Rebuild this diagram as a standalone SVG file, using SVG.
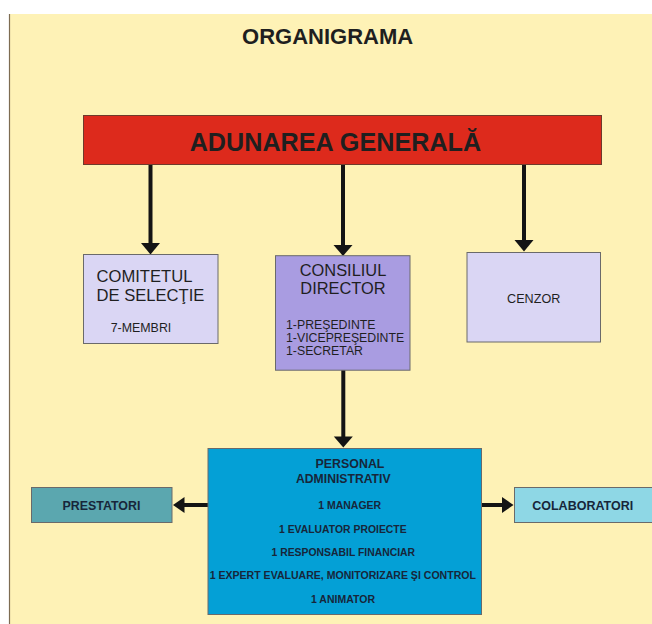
<svg xmlns="http://www.w3.org/2000/svg" width="652" height="624" viewBox="0 0 652 624">
<defs>
<style>
.t{font-family:"Liberation Sans",Arial,sans-serif;fill:#1f1f1f}
.b{font-weight:bold}
.box{stroke:#6a6a6a;stroke-width:1}
.ln{stroke:#141414;stroke-width:4;fill:none}
.hd{fill:#141414}
.nv{fill:#17263a}
</style>
</defs>
<rect x="0" y="0" width="652" height="624" fill="#ffffff"/>
<rect x="9" y="14" width="643" height="610" fill="#FEF2B6"/>
<line x1="9.5" y1="14" x2="9.5" y2="624" stroke="#7d6c52" stroke-width="1.2"/>

<text class="t b" x="327.6" y="44.3" font-size="22" text-anchor="middle" fill="#111111">ORGANIGRAMA</text>

<g id="connectors">
<line class="ln" x1="150.5" y1="165" x2="150.5" y2="244"/>
<polygon class="hd" points="141,243 160,243 150.5,254.5"/>
<line class="ln" x1="343" y1="165" x2="343" y2="246"/>
<polygon class="hd" points="333.5,245 352.5,245 343,256"/>
<line class="ln" x1="524" y1="165" x2="524" y2="241"/>
<polygon class="hd" points="514.5,240 533.5,240 524,251.5"/>
<line class="ln" x1="343.3" y1="370" x2="343.3" y2="437"/>
<polygon class="hd" points="333.8,436.5 352.8,436.5 343.3,447.5"/>
<line class="ln" x1="208" y1="505" x2="183" y2="505"/>
<polygon class="hd" points="184.5,497 184.5,513 173,505"/>
<line class="ln" x1="482" y1="505" x2="503" y2="505"/>
<polygon class="hd" points="502,497 502,513 513.5,505"/>
</g>

<g id="adunarea">
<rect x="83.5" y="115.5" width="518" height="49" fill="#DD2A1C" stroke="#6e3b2c" stroke-width="1"/>
<text class="t b" x="335.4" y="150.7" font-size="25.2" text-anchor="middle" fill="#1a1a1a">ADUNAREA GENERALĂ</text>
</g>

<g id="comitetul">
<rect class="box" x="83.5" y="254.5" width="134.5" height="89" fill="#DAD6F4"/>
<text class="t" x="96.5" y="282.3" font-size="16.6">COMITETUL</text>
<text class="t" x="96.5" y="300.7" font-size="16.6">DE SELECŢIE</text>
<text class="t" x="110.7" y="332.3" font-size="12.4">7-MEMBRI</text>
</g>

<g id="consiliul">
<rect class="box" x="275.5" y="255.7" width="134.5" height="114.5" fill="#A99CE1"/>
<text class="t" x="343" y="276.2" font-size="16.4" text-anchor="middle">CONSILIUL</text>
<text class="t" x="343" y="293.6" font-size="16.4" text-anchor="middle">DIRECTOR</text>
<text class="t" x="286" y="329.3" font-size="12.3">1-PREŞEDINTE</text>
<text class="t" x="286" y="342" font-size="12.3">1-VICEPREŞEDINTE</text>
<text class="t" x="286" y="355" font-size="12.3">1-SECRETAR</text>
</g>

<g id="cenzor">
<rect class="box" x="467" y="252.5" width="133.5" height="89.5" fill="#DAD6F4"/>
<text class="t" x="533.7" y="303" font-size="12.6" text-anchor="middle">CENZOR</text>
</g>

<g id="personal">
<rect class="box" x="208" y="448.5" width="273.5" height="166" fill="#04A0D6" stroke="#2a4a5c"/>
<text class="t b nv" x="350" y="468.3" font-size="12.4" text-anchor="middle">PERSONAL</text>
<text class="t b nv" x="343.3" y="482.7" font-size="12.2" text-anchor="middle">ADMINISTRATIV</text>
<text class="t b nv" x="349.7" y="509" font-size="10.5" text-anchor="middle">1 MANAGER</text>
<text class="t b nv" x="342.8" y="532.7" font-size="10.4" text-anchor="middle">1 EVALUATOR PROIECTE</text>
<text class="t b nv" x="343.3" y="556" font-size="10.4" text-anchor="middle">1 RESPONSABIL FINANCIAR</text>
<text class="t b nv" x="342.8" y="579.3" font-size="10.55" text-anchor="middle">1 EXPERT EVALUARE, MONITORIZARE ŞI CONTROL</text>
<text class="t b nv" x="343" y="603.3" font-size="10.5" text-anchor="middle">1 ANIMATOR</text>
</g>

<g id="prestatori">
<rect class="box" x="31.5" y="487.5" width="140.5" height="35" fill="#5BA7AF" stroke="#3f6f74"/>
<text class="t b nv" x="101.5" y="510" font-size="12.4" text-anchor="middle">PRESTATORI</text>
</g>

<g id="colaboratori">
<rect class="box" x="514.5" y="487.5" width="142" height="35" fill="#8ED7E5" stroke="#4f8f99"/>
<text class="t b nv" x="582.7" y="510" font-size="12.5" text-anchor="middle">COLABORATORI</text>
</g>
</svg>
